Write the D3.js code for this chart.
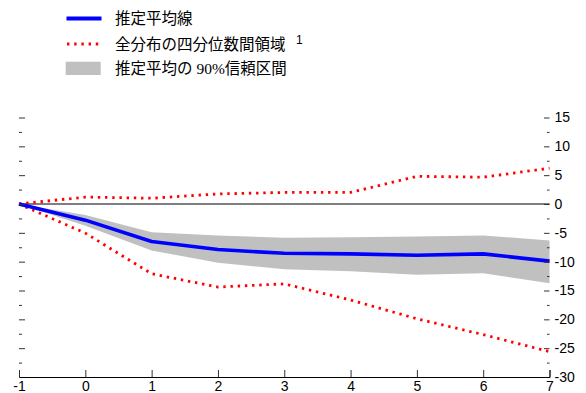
<!DOCTYPE html>
<html>
<head>
<meta charset="utf-8">
<script src="https://cdn.jsdelivr.net/npm/d3@7"></script>
<style>
  html, body { margin: 0; padding: 0; background: #fff; }
  svg { display: block; }
  .leg { font-family: "Liberation Serif", "Noto Sans CJK JP", serif; font-size: 15.5px; fill: #000; }
</style>
</head>
<body>
<svg id="chart" width="586" height="393"></svg>
<script>
// Horizon (periods after the shock)
const periods = [-1, 0, 1, 2, 3, 4, 5, 6, 7];

// Estimated mean response
const meanResp = [0, -2.8, -6.5, -7.9, -8.55, -8.65, -8.9, -8.65, -9.9];

// 90% confidence interval of the estimated mean
const ciUpper = [0, -1.9, -4.9, -5.45, -5.85, -5.75, -5.65, -5.45, -6.35];
const ciLower = [0, -3.75, -8.05, -10.2, -11.3, -11.65, -12.25, -12.0, -13.75];

// Interquartile range of the full distribution
const q75 = [0, 1.2, 1.0, 1.75, 2.0, 2.0, 4.8, 4.65, 6.2];
const q25 = [0, -5.05, -12.1, -14.4, -13.85, -16.65, -19.9, -22.65, -25.6];

// Axis ticks
const xTicks = [-1, 0, 1, 2, 3, 4, 5, 6, 7];
const yMajorTicks = [15, 10, 5, 0, -5, -10, -15, -20, -25, -30];
const yMinorTicks = [12.5, 7.5, 2.5, -2.5, -7.5, -12.5, -17.5, -22.5, -27.5];

// Legend entries
const legendLabels = ["推定平均線", "全分布の四分位数間領域", "推定平均の 90%信頼区間"];
const legendNote = "1";

const NUM_FONT = '"Liberation Sans", Arial, sans-serif';

const svg = d3.select("#chart");

const x = d3.scaleLinear().domain([-1, 7]).range([19, 549.5]);
const y = d3.scaleLinear().domain([-30, 15]).range([377, 117.5]);

const rows = periods.map((p, i) => ({
  p, mean: meanResp[i], lo: ciLower[i], hi: ciUpper[i], q25: q25[i], q75: q75[i]
}));

// Confidence band
svg.append("path")
  .datum(rows)
  .attr("fill", "#c0c0c0")
  .attr("d", d3.area().x(d => x(d.p)).y0(d => y(d.lo)).y1(d => y(d.hi)));

// Zero line
svg.append("line")
  .attr("x1", x(-1)).attr("x2", x(7))
  .attr("y1", y(0)).attr("y2", y(0))
  .attr("stroke", "#000").attr("stroke-width", 1.2);

// Interquartile bounds
const dotted = (key) => svg.append("path")
  .datum(rows)
  .attr("fill", "none")
  .attr("stroke", "#ff0000")
  .attr("stroke-width", 2.8)
  .attr("stroke-dasharray", "2.4,4.8")
  .attr("d", d3.line().x(d => x(d.p)).y(d => y(d[key])));
dotted("q75");
dotted("q25");

// Mean line
svg.append("path")
  .datum(rows)
  .attr("fill", "none")
  .attr("stroke", "#0000ff")
  .attr("stroke-width", 3.6)
  .attr("stroke-linejoin", "round")
  .attr("d", d3.line().x(d => x(d.p)).y(d => y(d.mean)));

const fmt = d => String(d);

// Left ticks (no labels)
const leftMajor = svg.append("g").attr("transform", `translate(${x(-1)},0)`)
  .call(d3.axisRight(y).tickValues(yMajorTicks.filter(v => v > -30)).tickSize(6).tickFormat(""));
const leftMinor = svg.append("g").attr("transform", `translate(${x(-1)},0)`)
  .call(d3.axisRight(y).tickValues(yMinorTicks).tickSize(3).tickFormat(""));

// Right ticks with labels
const rightMajor = svg.append("g").attr("transform", `translate(${x(7)},0)`)
  .call(d3.axisRight(y).tickValues(yMajorTicks).tickSizeInner(-5.5).tickPadding(5).tickFormat(fmt));
const rightMinor = svg.append("g").attr("transform", `translate(${x(7)},0)`)
  .call(d3.axisRight(y).tickValues(yMinorTicks).tickSizeInner(-2.5).tickFormat(""));

// Bottom axis, ticks pointing up, labels below
const bottom = svg.append("g").attr("transform", `translate(0,${y(-30)})`)
  .call(d3.axisBottom(x).tickValues(xTicks).tickSizeInner(-7).tickSizeOuter(-7).tickPadding(4).tickFormat(fmt));
bottom.select(".domain").attr("stroke", "#000");

[leftMajor, leftMinor, rightMajor, rightMinor, bottom].forEach(g => {
  g.attr("font-family", NUM_FONT).attr("font-size", 14);
  g.selectAll(".tick line").attr("stroke", "#333");
  g.selectAll(".tick text").attr("fill", "#000");
});
[leftMajor, leftMinor, rightMajor, rightMinor].forEach(g => g.select(".domain").remove());

// Legend
const leg = svg.append("g");
const legY = [18.5, 44, 68.3];
leg.append("line")
  .attr("x1", 66.5).attr("x2", 101.5).attr("y1", legY[0]).attr("y2", legY[0])
  .attr("stroke", "#0000ff").attr("stroke-width", 4);
leg.append("line")
  .attr("x1", 67).attr("x2", 100).attr("y1", legY[1]).attr("y2", legY[1])
  .attr("stroke", "#ff0000").attr("stroke-width", 2.8).attr("stroke-dasharray", "2.4,4.8");
leg.append("rect")
  .attr("x", 65.7).attr("y", 61.7).attr("width", 35).attr("height", 13.3)
  .attr("fill", "#c0c0c0");
legendLabels.forEach((t, i) => {
  leg.append("text").attr("class", "leg")
    .attr("x", 115).attr("y", legY[i]).attr("dy", "0.36em").text(t);
});
leg.append("text")
  .attr("x", 296).attr("y", 43.5)
  .attr("font-family", NUM_FONT).attr("font-size", 12).attr("fill", "#000")
  .text(legendNote);
</script>
</body>
</html>
